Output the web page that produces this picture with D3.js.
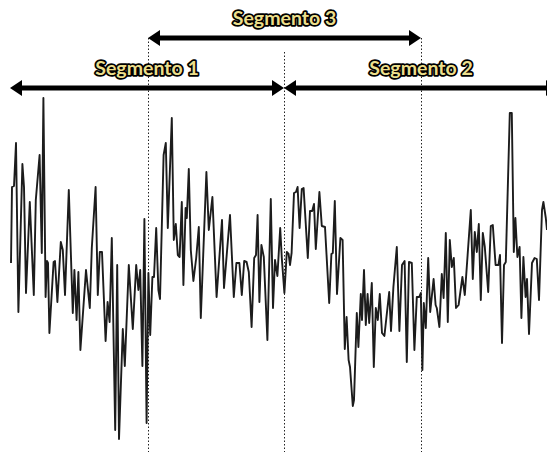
<!DOCTYPE html>
<html>
<head>
<meta charset="utf-8">
<script src="https://cdn.jsdelivr.net/npm/d3@7"></script>
<style>
  html, body { margin: 0; padding: 0; background: #fff; }
  svg { display: block; }
</style>
</head>
<body>
<script>
// Sample times (sample index) of the signal
const sampleTime = [
  0.5, 1.0, 2.0, 3.0, 4.2, 6.2, 7.0, 8.0, 9.9, 11.9, 12.9, 14.8, 15.9, 16.7, 17.8, 18.5, 19.0, 19.7,
  21.8, 22.5, 23.7, 25.4, 26.4, 27.5, 29.4, 31.4, 32.2, 33.3, 34.2, 35.2, 38.0, 39.9, 40.9, 42.8,
  43.9, 44.9, 46.0, 47.8, 48.8, 49.8, 50.9, 52.6, 53.6, 54.5, 56.4, 57.4, 59.4, 61.4, 63.1, 64.2,
  65.1, 66.2, 67.2, 68.3, 69.2, 70.1, 71.2, 72.0, 73.1, 74.2, 75.0, 76.8, 77.9, 78.9, 80.9, 81.9,
  82.9, 83.9, 84.8, 85.9, 86.7, 87.8, 88.4, 89.4, 90.4, 91.7, 93.1, 94.4, 95.4, 98.2, 99.4, 101.2,
  103.3, 106.0, 107.0, 110.0, 111.9, 113.2, 114.7, 115.9, 117.1, 118.3, 119.4, 120.8, 122.1, 123.0,
  123.8, 124.7, 125.7, 126.9, 128.7, 130.4, 131.5, 132.5, 133.7, 135.1, 135.9, 137.2, 138.4, 139.3,
  140.0, 140.8, 142.0, 143.0, 143.8, 144.8, 145.9, 146.8, 148.9, 150.0, 151.1, 152.0, 152.9, 154.7,
  155.9, 157.5, 159.6, 160.7, 161.4, 162.4, 163.5, 165.2, 166.3, 167.4, 168.3, 169.3, 170.0, 171.4,
  172.0, 173.4, 174.2, 175.4, 176.0, 177.0, 177.9, 178.8, 179.6, 180.9, 181.9, 182.9, 183.9, 184.9,
  186.0, 187.2, 189.6, 190.5, 191.7, 193.4, 194.7, 196.0, 197.3, 198.4, 199.5, 200.9, 202.2, 203.4,
  204.6, 205.4, 206.2, 206.9, 207.9, 209.1, 210.1, 211.8, 212.8, 213.4, 214.7, 215.9, 216.8, 217.9,
  218.9, 219.9, 220.9, 221.9, 223.0, 224.3, 226.2, 227.4, 230.4, 231.4, 232.4, 233.4, 234.4, 235.4,
  236.4, 237.4, 239.1, 240.4, 241.4, 242.8, 244.2, 245.0, 246.0, 247.0, 247.9, 249.9, 250.9, 251.9,
  252.7, 253.7, 254.8, 255.7, 256.7, 257.8, 258.5, 259.5, 261.0, 262.3, 263.4, 264.5, 266.0, 266.7,
  267.9, 268.5
];

// Signal amplitude at each sample
const signalValue = [
  0.7, 8.3, 8.4, 12.7, -4.2, 10.6, 8.3, -2.3, 6.8, -2.5, 7.0, 11.5, 1.7, 17.2, -2.7, 0.9, 0.7, -6.3,
  0.8, 0.9, -3.2, 2.8, 2.0, -2.5, 8.0, -4.3, 0.0, -5.0, -0.2, -8.0, 0.0, -3.8, 2.2, 8.3,
  -2.5, 1.8, 1.8, -7.1, -3.2, -5.2, 3.2, -16.0, 0.5, -16.9, -5.9, -9.6, 0.5, -5.9, 0.5, -2.0,
  0.0, -9.6, 5.1, -15.3, -0.3, -6.5, -0.7, -0.7, 4.2, -2.0, -2.9, 11.5, 12.7, 4.2, 15.2, 3.0,
  4.6, 1.5, 1.3, 6.8, -1.5, 6.2, 5.2, 10.1, 2.0, -1.1, 1.2, 4.3, -4.8, 9.8, 4.0, 7.3,
  -2.7, 5.0, -1.8, 5.5, -2.7, 0.7, 0.7, -2.5, 0.9, 0.8, -0.2, -5.7, 1.2, 1.5,
  5.5, -3.2, 2.5, 1.3, -7.0, 7.1, -3.8, 1.0, -0.6, 4.2, 1.2, -2.3, 1.8, 1.6,
  0.5, 1.7, 7.7, 7.8, 8.3, 4.2, 8.1, 8.2, 1.2, 5.9, 5.9, 6.6, 2.1, 7.8,
  4.4, 4.3, -3.3, 1.6, 1.7, 6.9, -2.4, 3.2, 3.0, -7.9, -4.7, -9.0, -9.7, -13.6,
  -13.0, -4.3, -7.7, -2.4, -5.0, 0.0, -5.5, -2.4, -5.3, -1.3, -9.7, -3.8, -5.0, -2.4,
  -6.3, -6.6, -2.2, -6.1, -1.7, 2.3, -6.1, 0.5, 0.9, -9.2, 0.8, 0.7, -8.0, -2.7,
  -2.7, -2.3, -10.0, -3.3, -5.8, 1.2, -4.2, -0.9, -3.5, -3.8, -5.7, -0.4, -2.8, 3.7,
  -5.2, 3.0, 0.3, 1.2, -3.8, -3.5, -0.7, -2.5, 6.0, -0.9, 3.8, 1.8, 4.6, -3.0,
  3.7, 2.3, -2.2, 4.4, 4.5, 0.5, 0.5, 1.5, -7.3, 0.5, 0.8, 15.7, 15.7, 1.8,
  5.2, 1.3, 2.3, -4.8, 1.3, -2.7, -0.9, -6.4, 0.7, 1.2, 1.1, -3.0, 6.0, 6.8,
  5.2, 4.0
];

// Analysis windows (start / end sample) and their labels
const segmentNames = ["Segmento 1", "Segmento 2", "Segmento 3"];
const segmentStart = [0, 137, 69];
const segmentEnd   = [137, 274, 205.5];
const segmentRow   = [1, 1, 0];          // 0 = upper arrow row, 1 = lower arrow row

// Window boundaries marked with dotted guides
const boundaryTime = [69, 137, 205.5];
const boundaryRow  = [0, 1, 0];

const width = 547, height = 452;
const rowY = [38, 88];
const guideTop = [38, 52];

const svg = d3.select("body").append("svg")
  .attr("width", width)
  .attr("height", height);

const x = d3.scaleLinear().domain([0, 268.5]).range([10, 547]);
const y = d3.scaleLinear().domain([-18, 18]).range([450, 90]);

// dotted boundary guides
svg.append("g")
  .selectAll("line")
  .data(boundaryTime)
  .join("line")
  .attr("x1", d => Math.round(x(d)) + 0.5)
  .attr("x2", d => Math.round(x(d)) + 0.5)
  .attr("y1", (d, i) => guideTop[boundaryRow[i]])
  .attr("y2", height)
  .attr("stroke", "#222")
  .attr("stroke-width", 1)
  .attr("stroke-dasharray", "1.5,2");

// signal trace
const points = sampleTime.map((t, i) => [t, signalValue[i]]);
svg.append("path")
  .datum(points)
  .attr("fill", "none")
  .attr("stroke", "#1c1c1c")
  .attr("stroke-width", 1.9)
  .attr("stroke-linejoin", "round")
  .attr("d", d3.line().x(d => x(d[0])).y(d => y(d[1])));

// double-headed arrows spanning each window
const headLen = 12, headHalf = 8, shaft = 5;
const arrows = svg.append("g");
segmentNames.forEach((name, i) => {
  const x0 = x(segmentStart[i]), x1 = x(segmentEnd[i]);
  const yy = rowY[segmentRow[i]];
  arrows.append("rect")
    .attr("x", x0 + headLen - 1)
    .attr("y", yy - shaft / 2)
    .attr("width", x1 - x0 - 2 * headLen + 2)
    .attr("height", shaft)
    .attr("fill", "#000");
  arrows.append("path")
    .attr("d", `M${x0},${yy} L${x0 + headLen},${yy - headHalf} L${x0 + headLen},${yy + headHalf} Z`)
    .attr("fill", "#000");
  arrows.append("path")
    .attr("d", `M${x1},${yy} L${x1 - headLen},${yy - headHalf} L${x1 - headLen},${yy + headHalf} Z`)
    .attr("fill", "#000");
  arrows.append("text")
    .attr("x", (x0 + x1) / 2)
    .attr("y", yy - 13)
    .attr("text-anchor", "middle")
    .attr("font-family", "Lato, 'Open Sans', sans-serif")
    .attr("font-weight", "bold")
    .attr("font-size", 19.5)
    .attr("fill", "#ECDF8C")
    .attr("stroke", "#000")
    .attr("stroke-width", 3.5)
    .attr("stroke-linejoin", "round")
    .attr("paint-order", "stroke")
    .text(name);
});
</script>
</body>
</html>
